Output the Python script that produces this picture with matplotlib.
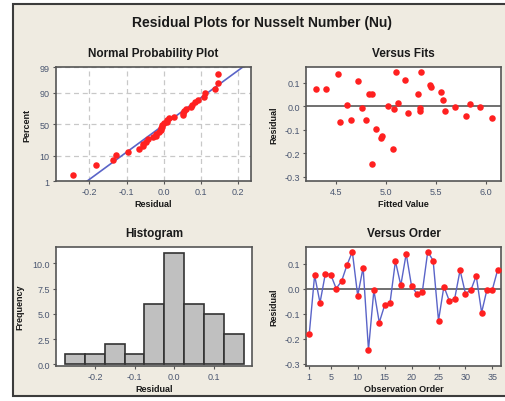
import matplotlib
matplotlib.use("Agg")
import matplotlib.pyplot as plt
import matplotlib.patches as patches
import numpy as np
from statistics import NormalDist

# residuals in observation order
order = list(range(1, 37))
residuals = [-0.183, 0.053, -0.057, 0.060, 0.055, 0.000, 0.029, 0.093, 0.147, -0.029,
             0.084, -0.245, -0.007, -0.136, -0.067, -0.057, 0.109, 0.013, 0.139, 0.009,
             -0.021, -0.012, 0.147, 0.112, -0.128, 0.008, -0.049, -0.041, 0.073, -0.020,
             -0.007, 0.051, -0.096, -0.004, -0.004, 0.076]
fitted = [5.07, 5.32, 4.65, 5.55, 4.83, 5.02, 5.57, 5.44, 5.35, 5.22,
          5.45, 4.86, 4.76, 4.95, 4.54, 4.80, 4.72, 5.12, 4.517, 5.84,
          5.34, 5.08, 5.10, 5.19, 4.96, 4.61, 6.06, 5.80, 4.30, 5.59,
          5.34, 4.86, 4.90, 5.69, 5.94, 4.40]

hist_bins = [-0.275, -0.225, -0.175, -0.125, -0.075, -0.025, 0.025, 0.075, 0.125, 0.175]
pct_ticks = [1, 10, 50, 90, 99]

FONT = ['Liberation Sans', 'DejaVu Sans']
TICK_C = '#4a5670'
RED = '#ff2020'
BLUE = '#5a64c8'
BG = '#efebe1'

plt.rcParams['font.family'] = FONT

W, H = 505, 402
fig = plt.figure(figsize=(W / 100, H / 100), dpi=100)
fig.patch.set_facecolor('white')

# beige panel with border
fig.patches.append(patches.Rectangle((13 / W, 1 - 397 / H), 1.0, (397 - 5) / H,
                                     transform=fig.transFigure, facecolor=BG,
                                     edgecolor='#3c3c3c', lw=1.5, zorder=-10))

fig.text(262 / W, 1 - 23 / H, 'Residual Plots for Nusselt Number (Nu)',
         ha='center', va='center', fontsize=10, weight='bold', color='#1a1a1a')


def make_ax(l, t, r, b):
    ax = fig.add_axes([l / W, 1 - b / H, (r - l) / W, (b - t) / H])
    ax.set_facecolor('white')
    for s in ax.spines.values():
        s.set_color('#555555')
        s.set_linewidth(1.2)
    ax.tick_params(labelsize=6.5, colors='#555555', labelcolor=TICK_C, length=2.5, width=0.8, pad=2)
    return ax


def title(ax, txt):
    ax.set_title(txt, fontsize=8.5, weight='bold', color='#1a1a1a', pad=8)


def labels(ax, xl, yl, ypad=4):
    ax.set_xlabel(xl, fontsize=6.5, weight='bold', color='#1a1a1a', labelpad=2)
    ax.set_ylabel(yl, fontsize=6.5, weight='bold', color='#1a1a1a', labelpad=ypad)


res = np.array(residuals)
n = len(res)

# Normal probability plot
ax1 = make_ax(56, 68, 251, 182)
nd = NormalDist()
srt = np.sort(res)
z = np.array([nd.inv_cdf((i - 0.3) / (n + 0.4)) for i in range(1, n + 1)])
mu, sd = res.mean(), res.std(ddof=1)
zl = np.array([-3.0, 3.0])
ax1.plot(mu + sd * zl, zl, color=BLUE, lw=1.2, zorder=2)
ax1.scatter(srt, z, s=22, color=RED, zorder=3, linewidths=0)
zt = [nd.inv_cdf(p / 100) for p in pct_ticks]
ax1.set_yticks(zt)
ax1.set_yticklabels([str(p) for p in pct_ticks])
ax1.set_ylim(zt[0], zt[-1] + 0.02)
ax1.set_xlim(-0.29, 0.235)
ax1.set_xticks([-0.2, -0.1, 0.0, 0.1, 0.2])
ax1.set_xticklabels(['-0.2', '-0.1', '0.0', '0.1', '0.2'])
ax1.grid(True, color='#c8c8c8', ls=(0, (4, 3)), lw=0.9)
ax1.set_axisbelow(True)
title(ax1, 'Normal Probability Plot')
labels(ax1, 'Residual', 'Percent', ypad=6)

# Versus fits
ax2 = make_ax(306, 68, 501, 182)
ax2.axhline(0, color='#707070', lw=1.4, zorder=1)
ax2.scatter(fitted, residuals, s=22, color=RED, zorder=3, linewidths=0)
ax2.set_xlim(4.2, 6.15)
ax2.set_ylim(-0.318, 0.168)
ax2.set_xticks([4.5, 5.0, 5.5, 6.0])
ax2.set_xticklabels(['4.5', '5.0', '5.5', '6.0'])
ax2.set_yticks([-0.3, -0.2, -0.1, 0.0, 0.1])
ax2.set_yticklabels(['-0.3', '-0.2', '-0.1', '0.0', '0.1'])
title(ax2, 'Versus Fits')
labels(ax2, 'Fitted Value', 'Residual')

# Histogram
ax3 = make_ax(56, 248, 252, 367)
ax3.hist(res, bins=hist_bins, color='#c0c0c0', edgecolor='#333333', lw=1.2)
ax3.set_xlim(-0.298, 0.196)
ax3.set_ylim(-0.15, 11.6)
ax3.set_xticks([-0.2, -0.1, 0.0, 0.1])
ax3.set_xticklabels(['-0.2', '-0.1', '0.0', '0.1'])
ax3.set_yticks([0, 2.5, 5.0, 7.5, 10.0])
ax3.set_yticklabels(['0.0', '2.5', '5.0', '7.5', '10.0'])
title(ax3, 'Histogram')
labels(ax3, 'Residual', 'Frequency', ypad=6)

# Versus order
ax4 = make_ax(306, 248, 501, 367)
ax4.axhline(0, color='#707070', lw=1.4, zorder=1)
ax4.plot(order, residuals, color=BLUE, lw=1.0, zorder=2)
ax4.scatter(order, residuals, s=22, color=RED, zorder=3, linewidths=0)
ax4.set_xlim(0.4, 36.6)
ax4.set_ylim(-0.31, 0.166)
ax4.set_xticks([1, 5, 10, 15, 20, 25, 30, 35])
ax4.set_yticks([-0.3, -0.2, -0.1, 0.0, 0.1])
ax4.set_yticklabels(['-0.3', '-0.2', '-0.1', '0.0', '0.1'])
title(ax4, 'Versus Order')
labels(ax4, 'Observation Order', 'Residual')

fig.savefig('out.png', dpi=100, facecolor=fig.get_facecolor())
